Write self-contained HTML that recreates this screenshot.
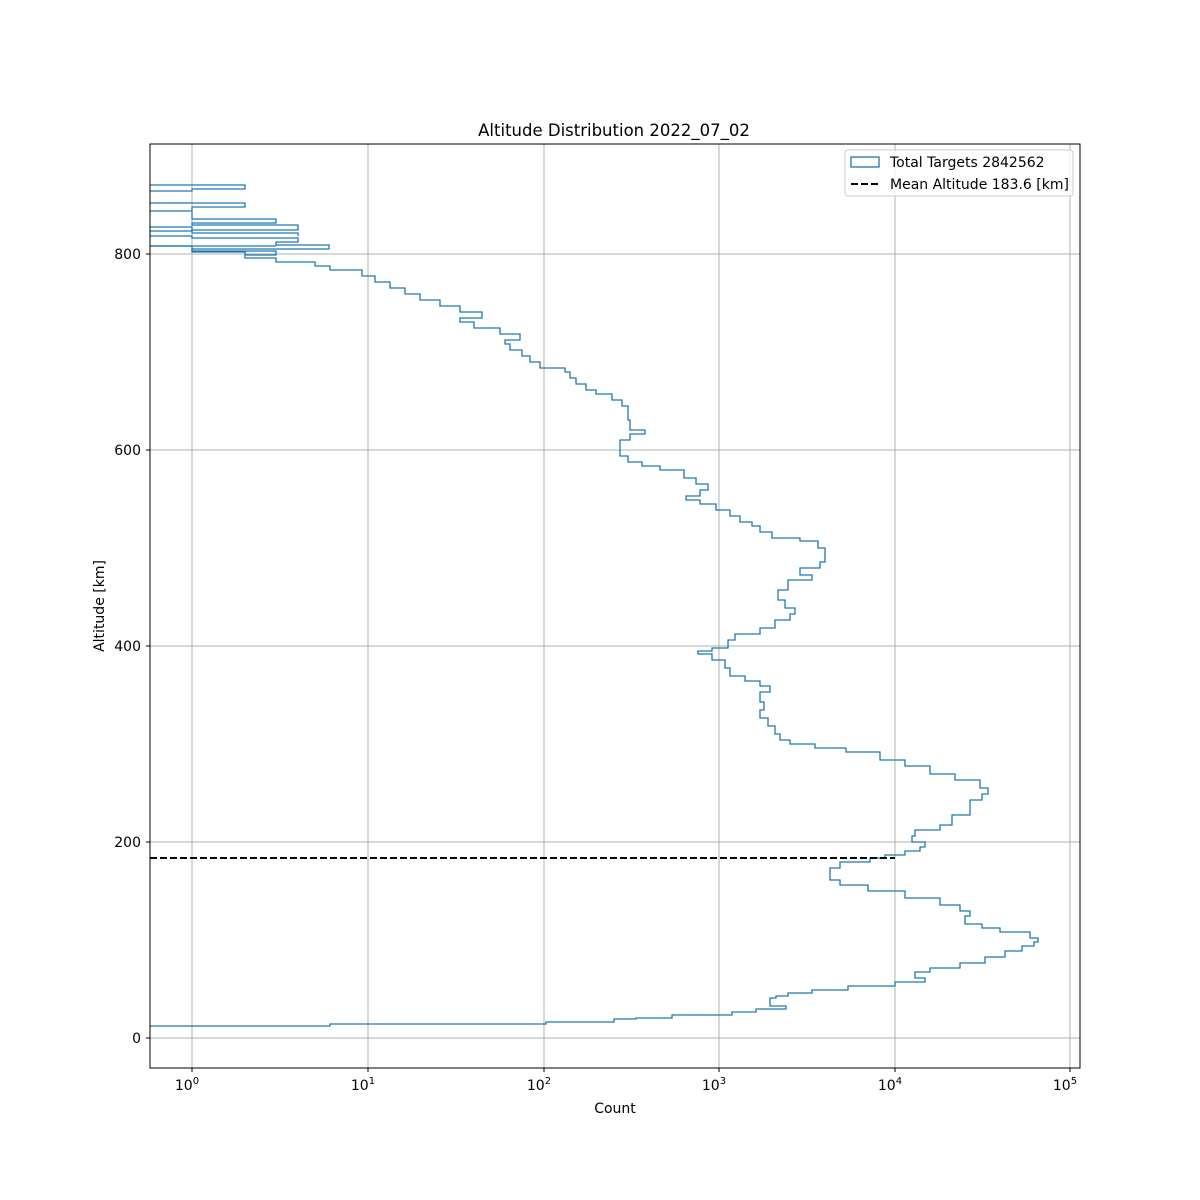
<!DOCTYPE html>
<html><head><style>body{margin:0;background:#fff}svg{display:block}text{font-family:"DejaVu Sans","Liberation Sans",sans-serif;font-size:14px;fill:#000}</style></head>
<body>
<svg width="1200" height="1200" viewBox="0 0 1200 1200">
<defs><clipPath id="c"><rect x="150" y="144" width="930" height="924"/></clipPath></defs>
<g stroke="#b0b0b0" stroke-width="1">
<line x1="192" y1="144" x2="192" y2="1068"/><line x1="368" y1="144" x2="368" y2="1068"/><line x1="544" y1="144" x2="544" y2="1068"/><line x1="719" y1="144" x2="719" y2="1068"/><line x1="895" y1="144" x2="895" y2="1068"/><line x1="1070" y1="144" x2="1070" y2="1068"/>
<line x1="150" y1="1038" x2="1080" y2="1038"/><line x1="150" y1="842" x2="1080" y2="842"/><line x1="150" y1="646" x2="1080" y2="646"/><line x1="150" y1="450" x2="1080" y2="450"/><line x1="150" y1="254" x2="1080" y2="254"/>
</g>
<g clip-path="url(#c)" fill="none" stroke="#1f77b4" stroke-width="1.3">
<polyline points="100,1026 330,1026 330,1024 546,1024 546,1022 614,1022 614,1019 636,1019 636,1018 672,1018 672,1015 732,1015 732,1012 756,1012 756,1009 786,1009 786,1006 770,1006 770,998 776,998 776,996 788,996 788,993 812,993 812,990 848,990 848,986 895,986 895,982 925,982 925,978 915,978 915,972 930,972 930,968 960,968 960,963 985,963 985,957 1005,957 1005,951 1022,951 1022,946 1034,946 1034,942 1038,942 1038,938 1030,938 1030,932 1000,932 1000,928 982,928 982,924 965,924 965,916 970,916 970,911 960,911 960,905 940,905 940,898 905,898 905,891 868,891 868,885 840,885 840,880 830,880 830,868 840,868 840,862 870,862 870,858 885,858 885,855 905,855 905,851 920,851 920,847 925,847 925,842 912,842 912,836 915,836 915,830 940,830 940,825 952,825 952,815 970,815 970,800 982,800 982,794 988,794 988,788 980,788 980,780 955,780 955,774 930,774 930,766 905,766 905,760 880,760 880,752 846,752 846,748 815,748 815,744 790,744 790,740 780,740 780,734 775,734 775,726 768,726 768,718 760,718 760,710 764,710 764,702 760,702 760,692 770,692 770,686 760,686 760,681 745,681 745,676 730,676 730,668 725,668 725,660 712,660 712,654 698,654 698,651 712,651 712,648 728,648 728,640 735,640 735,634 760,634 760,628 775,628 775,620 790,620 790,614 795,614 795,608 785,608 785,600 778,600 778,590 788,590 788,580 812,580 812,575 800,575 800,568 820,568 820,562 825,562 825,548 818,548 818,541 800,541 800,538 772,538 772,532 760,532 760,526 752,526 752,522 740,522 740,516 730,516 730,510 716,510 716,504 700,504 700,500 686,500 686,496 700,496 700,490 708,490 708,484 696,484 696,478 684,478 684,470 660,470 660,466 642,466 642,462 628,462 628,456 620,456 620,440 630,440 630,434 645,434 645,430 630,430 630,420 628,420 628,406 622,406 622,400 612,400 612,394 596,394 596,390 586,390 586,384 576,384 576,378 570,378 570,372 565,372 565,368 540,368 540,362 530,362 530,356 522,356 522,350 510,350 510,344 505,344 505,340 520,340 520,334 500,334 500,328 474,328 474,322 460,322 460,318 482,318 482,312 460,312 460,306 440,306 440,300 420,300 420,294 405,294 405,288 390,288 390,282 375,282 375,276 362,276 362,270 330,270 330,266 315,266 315,262 276,262 276,258 245,258 245,252 192,252 192,246 100,246"/>
<polyline points="100,185 245,185 245,189 192,189 192,191 100,191"/>
<polyline points="100,203 245,203 245,207 192,207 192,211 100,211"/>
<polyline points="192,212 192,219 276,219 276,223 192,223 192,225 298,225 298,230 192,230 192,231 100,231 100,236 192,236 192,238 298,238 298,242 276,242 276,245 329,245 329,249 192,249 192,251 276,251 276,255 245,255"/>
<polyline points="100,227 192,227 192,233 298,233 298,236"/>
<polyline points="100,246 276,246"/>
</g>
<line x1="150" y1="858" x2="895" y2="858" stroke="#000" stroke-width="2" stroke-dasharray="7,3"/>
<rect x="150" y="144" width="930" height="924" fill="none" stroke="#000" stroke-width="1"/>
<g stroke="#000"><line x1="192" y1="1068" x2="192" y2="1072"/><line x1="368" y1="1068" x2="368" y2="1072"/><line x1="544" y1="1068" x2="544" y2="1072"/><line x1="719" y1="1068" x2="719" y2="1072"/><line x1="895" y1="1068" x2="895" y2="1072"/><line x1="1070" y1="1068" x2="1070" y2="1072"/>
<line x1="146" y1="1038" x2="150" y2="1038"/><line x1="146" y1="842" x2="150" y2="842"/><line x1="146" y1="646" x2="150" y2="646"/><line x1="146" y1="450" x2="150" y2="450"/><line x1="146" y1="254" x2="150" y2="254"/></g>
<g text-anchor="middle"><text x="187" y="1090">10<tspan dy="-6" style="font-size:10px">0</tspan></text><text x="363" y="1090">10<tspan dy="-6" style="font-size:10px">1</tspan></text><text x="539" y="1090">10<tspan dy="-6" style="font-size:10px">2</tspan></text><text x="714" y="1090">10<tspan dy="-6" style="font-size:10px">3</tspan></text><text x="890" y="1090">10<tspan dy="-6" style="font-size:10px">4</tspan></text><text x="1065" y="1090">10<tspan dy="-6" style="font-size:10px">5</tspan></text>
<text x="615" y="1113">Count</text><text x="614" y="136" style="font-size:16.5px">Altitude Distribution 2022_07_02</text></g>
<g text-anchor="end"><text x="141" y="1043">0</text><text x="141" y="847">200</text><text x="141" y="651">400</text><text x="141" y="455">600</text><text x="141" y="259">800</text></g>
<text transform="translate(104,606) rotate(-90)" text-anchor="middle">Altitude [km]</text>
<rect x="845" y="150" width="228" height="46" rx="3" fill="#fff" fill-opacity="0.8" stroke="#ccc"/>
<rect x="851" y="157" width="28" height="10" fill="none" stroke="#1f77b4" stroke-width="1.3"/>
<line x1="851" y1="184" x2="879" y2="184" stroke="#000" stroke-width="2" stroke-dasharray="7,3"/>
<text x="890" y="167">Total Targets 2842562</text><text x="890" y="189">Mean Altitude 183.6 [km]</text>
</svg>
</body></html>
